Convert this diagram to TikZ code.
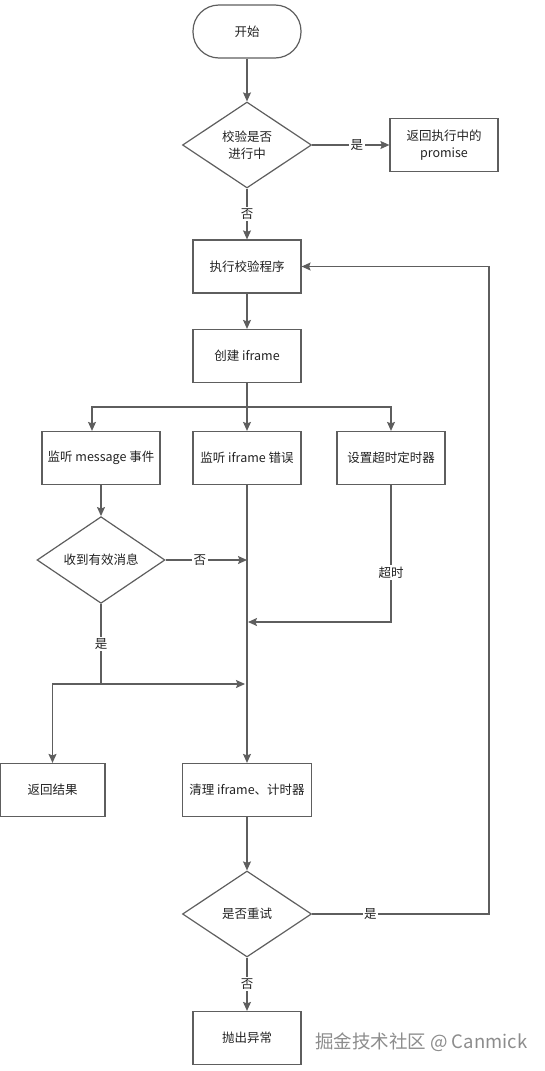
\documentclass[tikz,border=0pt]{standalone}
\usepackage{fontspec}
\setmainfont{Noto Sans CJK SC}
\usetikzlibrary{shapes.geometric,arrows.meta}
\definecolor{ln}{HTML}{5E5E5E}
\definecolor{tx}{HTML}{222222}
\definecolor{wm}{HTML}{8C8C8C}
\tikzset{
  base/.style={draw=ln, line width=1.2pt, text=tx, font=\fontsize{12.5}{17}\selectfont, align=center, inner sep=0pt},
  box/.style={base, rectangle, minimum width=108pt, minimum height=53pt},
  term/.style={base, rectangle, rounded corners=26pt, minimum width=108pt, minimum height=53pt},
  dec/.style={base, diamond, minimum width=129pt, minimum height=86pt},
  arr/.style={draw=ln, line width=1.2pt, -{Stealth[length=9pt,width=8pt,inset=1.5pt]}},
  wire/.style={draw=ln, line width=1.2pt},
  lbl/.style={fill=white, text=tx, font=\fontsize{12.5}{15}\selectfont, inner sep=1.5pt}
}
\begin{document}
\begin{tikzpicture}[x=1pt,y=-1pt]
\useasboundingbox (0,0) rectangle (544,1071);
\node[term] (start) at (247,31.5) {开始};
\node[dec] (d1) at (247,145) {校验是否\\进行中};
\node[box] (ret) at (444,145) {返回执行中的\\promise};
\node[box] (exec) at (247,266.5) {执行校验程序};
\node[box] (create) at (247,356) {创建 iframe};
\node[box, minimum width=118pt] (mon1) at (101,458) {监听 message 事件};
\node[box] (mon2) at (247,458) {监听 iframe 错误};
\node[box] (mon3) at (391,458) {设置超时定时器};
\node[dec, minimum width=128pt] (d2) at (101,560) {收到有效消息};
\node[box, minimum width=105pt] (res) at (52.5,790) {返回结果};
\node[box, minimum width=129pt] (clean) at (247,790) {清理 iframe、计时器};
\node[dec] (d3) at (247,914) {是否重试};
\node[box] (throw) at (247,1038) {抛出异常};
\node[text=wm, font=\fontsize{18.5}{22}\selectfont, anchor=west, inner sep=0pt] (wmk) at (315,1042) {掘金技术社区 @ Canmick};

\coordinate (br) at (247,407);
\coordinate (c1) at (92,407);
\coordinate (j1) at (247,560);
\coordinate (j2) at (248,622);
\coordinate (j3) at (101,684);
\coordinate (j4) at (245,684);
\coordinate (loop) at (489,914);

\draw[arr] (start) -- (d1);
\draw[arr] (d1) -- node[lbl, pos=0.58]{是} (ret);
\draw[arr] (d1) -- node[lbl]{否} (exec);
\draw[arr] (exec) -- (create);
\draw[wire] (create) -- (br);
\draw[arr] (br) -- (mon2);
\draw[arr] (br) -| (mon3);
\draw[arr] (br) -- (c1) -- (c1 |- mon1.north);
\draw[arr] (mon1) -- (d2);
\draw[arr] (d2) -- node[lbl, pos=0.42]{否} (j1);
\draw[arr] (mon2) -- (clean);
\draw[arr] (mon3.south) |- node[lbl, pos=0.32]{超时} (j2);
\draw[wire] (d2) -- node[lbl]{是} (j3);
\draw[arr] (j3) -- (j4);
\draw[arr] (j3) -| (res);
\draw[arr] (clean) -- (d3);
\draw[arr] (d3.east) -- node[lbl, pos=0.33]{是} (loop) |- (exec.east);
\draw[arr] (d3) -- node[lbl]{否} (throw);
\end{tikzpicture}
\end{document}
